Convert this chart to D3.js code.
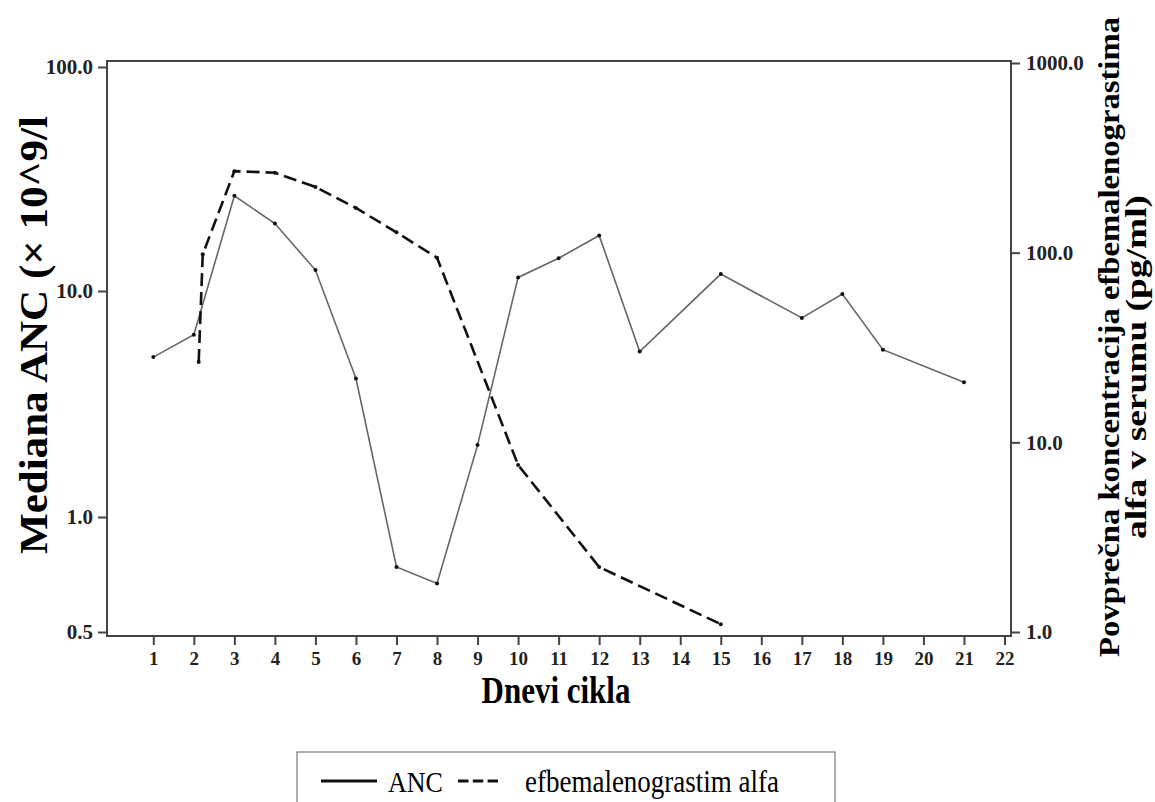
<!DOCTYPE html>
<html>
<head>
<meta charset="utf-8">
<script src="https://cdn.jsdelivr.net/npm/d3@7"></script>
<style>
  body { margin: 0; background: #fff; }
  svg { display: block; font-family: 'Liberation Serif', 'Times New Roman', serif; }
</style>
</head>
<body>
<div id="chart"></div>
<script>
// ANC (left axis, solid)
const ancDays = [1, 2, 3, 4, 5, 6, 7, 8, 9, 10, 11, 12, 13, 15, 17, 18, 19, 21];
const ancValues = [5.1, 6.4, 26.6, 20.0, 12.4, 4.1, 0.74, 0.67, 2.08, 11.5, 14.0, 17.7, 5.4, 11.9, 7.6, 9.7, 5.5, 3.95];

// efbemalenograstim alfa (right axis, dashed)
const efbDays = [2.12, 2.22, 3, 4, 5, 6, 7, 8, 10, 12, 15];
const efbValues = [26.5, 98, 269, 264, 222, 172, 128, 94, 7.6, 2.2, 1.1];

const xTicks = d3.range(1, 23);
const leftTicks = [0.5, 1, 10, 100];
const rightTicks = [1, 10, 100, 1000];

const width = 1155;
const height = 802;
const frame = { left: 107, top: 61, right: 1011, bottom: 636 };

const svg = d3.select('#chart')
  .append('svg')
  .attr('width', width)
  .attr('height', height);

const x = d3.scaleLinear().domain([1, 22]).range([153.3, 1004.5]);

// left axis as drawn in the source is not a single log decade spacing below 1.0
const yLeft = d3.scaleLog().domain([0.5, 1, 10, 100]).range([632, 517, 291, 67]);
const yRight = d3.scaleLog().domain([1, 1000]).range([632, 63]);

// frame
svg.append('rect')
  .attr('x', frame.left)
  .attr('y', frame.top)
  .attr('width', frame.right - frame.left)
  .attr('height', frame.bottom - frame.top)
  .attr('fill', 'none')
  .attr('stroke', '#444')
  .attr('stroke-width', 2);

const styleAxis = (size) => (g) => {
  g.select('.domain').remove();
  g.selectAll('.tick line').attr('stroke', '#444').attr('stroke-width', 2);
  g.selectAll('.tick text')
    .attr('fill', '#222')
    .attr('font-size', size)
    .attr('font-weight', 'bold')
    .attr('font-family', "'Liberation Serif', serif");
};

svg.append('g')
  .attr('transform', `translate(0, ${frame.bottom})`)
  .call(d3.axisBottom(x).tickValues(xTicks).tickFormat(d3.format('d')).tickSize(9).tickPadding(7))
  .call(styleAxis(19));

svg.append('g')
  .attr('transform', `translate(${frame.left}, 0)`)
  .call(d3.axisLeft(yLeft).tickValues(leftTicks).tickFormat(d3.format('.1f')).tickSize(9).tickPadding(5))
  .call(styleAxis(21));

svg.append('g')
  .attr('transform', `translate(${frame.right}, 0)`)
  .call(d3.axisRight(yRight).tickValues(rightTicks).tickFormat(d3.format('.1f')).tickSize(9).tickPadding(6))
  .call(styleAxis(21));

const anc = ancDays.map((d, i) => ({ day: d, value: ancValues[i] }));
const efb = efbDays.map((d, i) => ({ day: d, value: efbValues[i] }));

// ANC line
svg.append('path')
  .datum(anc)
  .attr('fill', 'none')
  .attr('stroke', '#666')
  .attr('stroke-width', 1.6)
  .attr('d', d3.line().x((d) => x(d.day)).y((d) => yLeft(d.value)));

// efbemalenograstim line
svg.append('path')
  .datum(efb)
  .attr('fill', 'none')
  .attr('stroke', '#111')
  .attr('stroke-width', 2.6)
  .attr('stroke-dasharray', '13 6')
  .attr('d', d3.line().x((d) => x(d.day)).y((d) => yRight(d.value)));

// point markers
svg.append('g')
  .selectAll('circle')
  .data(anc)
  .enter()
  .append('circle')
  .attr('cx', (d) => x(d.day))
  .attr('cy', (d) => yLeft(d.value))
  .attr('r', 2)
  .attr('fill', '#111');

svg.append('g')
  .selectAll('circle')
  .data(efb)
  .enter()
  .append('circle')
  .attr('cx', (d) => x(d.day))
  .attr('cy', (d) => yRight(d.value))
  .attr('r', 2)
  .attr('fill', '#111');

// the source image is a bit stretched vertically, so horizontal texts get scaled
const tallText = (px, py, k) => svg.append('text')
  .attr('transform', `translate(${px}, ${py}) scale(1, ${k})`);

// axis titles
tallText(556, 703, 1.2)
  .attr('text-anchor', 'middle')
  .attr('font-size', 31)
  .attr('font-weight', 'bold')
  .text('Dnevi cikla');

svg.append('text')
  .attr('transform', 'translate(47, 335) rotate(-90)')
  .attr('text-anchor', 'middle')
  .attr('font-size', 40)
  .attr('font-weight', 'bold')
  .attr('textLength', 438)
  .attr('lengthAdjust', 'spacingAndGlyphs')
  .text('Mediana ANC (× 10^9/l');

svg.append('text')
  .attr('transform', 'translate(1119, 337) rotate(-90)')
  .attr('text-anchor', 'middle')
  .attr('font-size', 29)
  .attr('font-weight', 'bold')
  .attr('textLength', 640)
  .attr('lengthAdjust', 'spacingAndGlyphs')
  .text('Povprečna koncentracija efbemalenograstima');

svg.append('text')
  .attr('transform', 'translate(1146, 367) rotate(-90)')
  .attr('text-anchor', 'middle')
  .attr('font-size', 29)
  .attr('font-weight', 'bold')
  .attr('textLength', 344)
  .attr('lengthAdjust', 'spacingAndGlyphs')
  .text('alfa v serumu (pg/ml)');

// legend
svg.append('rect')
  .attr('x', 297)
  .attr('y', 752)
  .attr('width', 538)
  .attr('height', 70)
  .attr('fill', '#fff')
  .attr('stroke', '#777')
  .attr('stroke-width', 1.2);

svg.append('line')
  .attr('x1', 321).attr('x2', 377)
  .attr('y1', 781).attr('y2', 781)
  .attr('stroke', '#111')
  .attr('stroke-width', 3);

tallText(388, 792, 1.15)
  .attr('font-size', 26)
  .text('ANC');

svg.append('line')
  .attr('x1', 458).attr('x2', 498)
  .attr('y1', 781).attr('y2', 781)
  .attr('stroke', '#111')
  .attr('stroke-width', 3)
  .attr('stroke-dasharray', '10.5 4.3');

tallText(525, 792, 1.15)
  .attr('font-size', 27)
  .text('efbemalenograstim alfa');
</script>
</body>
</html>
